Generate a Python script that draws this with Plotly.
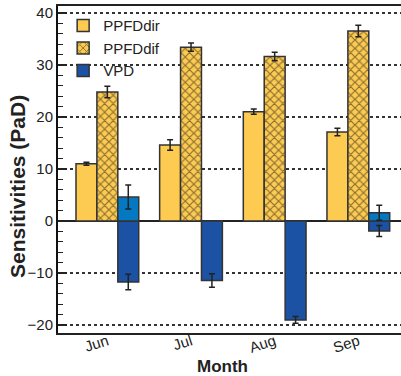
import plotly.graph_objects as go

months = ["Jun", "Jul", "Aug", "Sep"]
x_pos = [0, 1, 2, 3]

ppfd_dir = [11.0, 14.6, 21.0, 17.1]
ppfd_dir_err = [0.3, 1.0, 0.5, 0.7]

ppfd_dif = [24.8, 33.4, 31.6, 36.5]
ppfd_dif_err = [1.1, 0.8, 0.8, 1.1]

vpd_neg = [-11.7, -11.4, -19.0, -1.9]
vpd_neg_err = [1.5, 1.3, 0.65, 1.05]

vpd_pos = [4.6, None, None, 1.6]
vpd_pos_err = [2.3, 0, 0, 1.45]

YELLOW = "#fdcb52"
BLUE_DARK = "#1b52a3"
BLUE_LIGHT = "#0479c2"
EDGE = "#333333"
FONT = "Liberation Sans, Arial, sans-serif"


def err(vals):
    return dict(type="data", array=vals, color="#222222", thickness=1.5, width=3)


fig = go.Figure()
fig.add_trace(go.Bar(
    x=x_pos, y=ppfd_dir, name="PPFDdir", offsetgroup="a",
    marker=dict(color=YELLOW, line=dict(color=EDGE, width=1.5)),
    error_y=err(ppfd_dir_err),
))
fig.add_trace(go.Bar(
    x=x_pos, y=ppfd_dif, name="PPFDdif", offsetgroup="b",
    marker=dict(color=YELLOW, line=dict(color=EDGE, width=1.5),
                pattern=dict(shape="x", fgcolor="#111111", size=6, solidity=0.35)),
    error_y=err(ppfd_dif_err),
))
fig.add_trace(go.Bar(
    x=x_pos, y=vpd_neg, name="VPD", offsetgroup="c",
    marker=dict(color=BLUE_DARK, line=dict(color=EDGE, width=1.5)),
    error_y=err(vpd_neg_err),
))
fig.add_trace(go.Bar(
    x=x_pos, y=vpd_pos, name="VPD (+)", offsetgroup="c", showlegend=False,
    marker=dict(color=BLUE_LIGHT, line=dict(color=EDGE, width=1.5)),
    error_y=err(vpd_pos_err),
))

fig.update_layout(
    width=401, height=376,
    margin=dict(l=58, r=0, t=6, b=43),
    paper_bgcolor="white", plot_bgcolor="white",
    barmode="group", bargap=0.25, bargroupgap=0,
    font=dict(family=FONT, color="#222222", size=14),
    showlegend=True,
    legend=dict(x=0.015, y=0.99, xanchor="left", yanchor="top",
                bgcolor="rgba(0,0,0,0)", font=dict(size=15), tracegroupgap=0),
    xaxis=dict(
        range=[-0.59, 3.51], tickmode="array", tickvals=x_pos, ticktext=months,
        tickangle=-18, ticks="", showgrid=False, zeroline=False,
        showline=True, linecolor="#222222", linewidth=2, mirror=True,
        tickfont=dict(size=15), ticklabelstandoff=-8,
    ),
    yaxis=dict(
        range=[-21.5, 41.3], tickmode="array", tickvals=[-20, -10, 0, 10, 20, 30, 40],
        ticks="inside", ticklen=9, tickwidth=1.5, tickcolor="#222222",
        minor=dict(dtick=2, ticks="inside", ticklen=5, tickwidth=1.2,
                   tickcolor="#222222", showgrid=False),
        showgrid=True, gridcolor="#333333", griddash="dot", gridwidth=1.6,
        zeroline=True, zerolinecolor="#222222", zerolinewidth=1.6,
        showline=True, linecolor="#111111", linewidth=2,
        tickfont=dict(size=15),
    ),
    annotations=[
        dict(text="<b>Sensitivities (PaD)</b>", xref="paper", yref="paper",
             x=-0.118, y=0.5, xanchor="center", yanchor="middle",
             yshift=-17, textangle=-90, showarrow=False,
             font=dict(size=21, color="#222222")),
        dict(text="<b>Month</b>", xref="paper", yref="paper",
             x=0.48, y=0, yshift=-33, xanchor="center", yanchor="middle",
             showarrow=False, font=dict(size=17, color="#222222")),
    ],
)

fig.write_html("out.html")
